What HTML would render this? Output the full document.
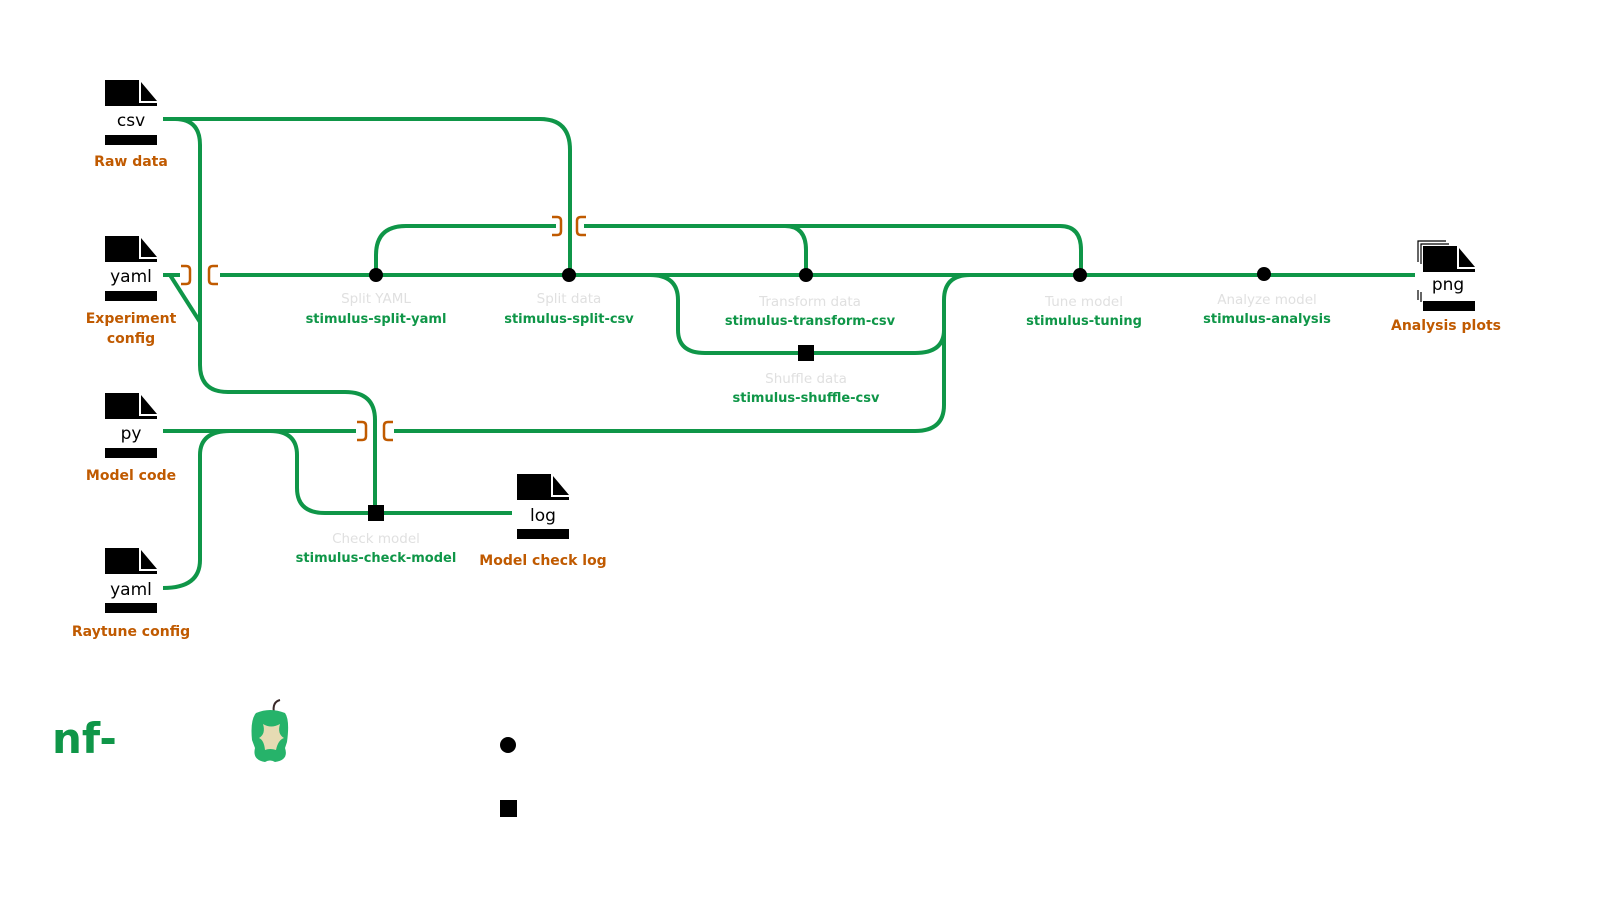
<!DOCTYPE html>
<html><head><meta charset="utf-8"><style>
html,body{margin:0;padding:0;background:#fff;overflow:hidden;}
svg{display:block;font-family:"DejaVu Sans","Liberation Sans",sans-serif;}
.g{fill:none;stroke:#0f9648;stroke-width:4;}
.br{fill:none;stroke:#c05a00;stroke-width:2.5;}
.lo{fill:#c05a00;font-weight:bold;font-size:14px;text-anchor:middle;}
.lg{fill:#0f9648;font-weight:bold;font-size:13px;text-anchor:middle;}
.lt{fill:#e0e0e0;font-size:13.5px;text-anchor:middle;}
.ft{fill:#000;font-size:17px;text-anchor:middle;}
</style></head><body>
<svg width="1600" height="900" viewBox="0 0 1600 900">
<defs>
<g id="doc">
<rect x="0" y="0" width="34" height="23" fill="#000"/>
<polygon points="36,2 36,21 52,21" fill="#000"/>
<rect x="0" y="23" width="52" height="3" fill="#000"/>
<rect x="0" y="55" width="52" height="10" fill="#000"/>
</g>
</defs>
<path class="g" d="M163,119 H540 Q570,119 570,150 V275"/>
<path class="g" d="M163,119 H175 Q200,119 200,145 V365 Q200,392 228,392 H345 Q375,392 375,420 V513"/>
<path class="g" d="M163,275 H180 M220,275 H376"/>
<path class="g" d="M170,275 L200,322"/>
<path class="g" d="M376,275 V255 Q376,226 406,226 H556 M584,226 H785 Q806,226 806,250 V275"/>
<path class="g" d="M785,226 H1060 Q1081,226 1081,250 V275"/>
<path class="g" d="M376,275 H1415"/>
<path class="g" d="M650,275 Q678,275 678,300 V330 Q678,353 705,353 H915 Q944,353 944,330 V300 Q944,275 970,275"/>
<path class="g" d="M163,431 H356 M394,431 H915 Q944,431 944,405 V330"/>
<path class="g" d="M270,431 Q297,431 297,455 V488 Q297,513 325,513 H512"/>
<path class="g" d="M163,588 Q200,588 200,560 V455 Q200,431 230,431"/>
<path class="br" d="M181,266 h5 q4,0 4,4 v10 q0,4 -4,4 h-5 M218,266 h-5 q-4,0 -4,4 v10 q0,4 4,4 h5"/>
<path class="br" d="M552,217 h5 q4,0 4,4 v10 q0,4 -4,4 h-5 M586,217 h-5 q-4,0 -4,4 v10 q0,4 4,4 h5"/>
<path class="br" d="M357,422 h5 q4,0 4,4 v10 q0,4 -4,4 h-5 M393,422 h-5 q-4,0 -4,4 v10 q0,4 4,4 h5"/>
<g fill="#000">
<circle cx="376" cy="275" r="7"/><circle cx="569" cy="275" r="7"/><circle cx="806" cy="275" r="7"/>
<circle cx="1080" cy="275" r="7"/><circle cx="1264" cy="274" r="7"/>
<rect x="798" y="345" width="16" height="16"/><rect x="368" y="505" width="16" height="16"/>
<circle cx="508" cy="745" r="8"/><rect x="500" y="800" width="17" height="17"/>
</g>
<use href="#doc" x="105" y="80"/><text class="ft" x="131" y="126">csv</text>
<use href="#doc" x="105" y="236"/><text class="ft" x="131" y="282">yaml</text>
<use href="#doc" x="105" y="393"/><text class="ft" x="131" y="439">py</text>
<use href="#doc" x="105" y="548"/><text class="ft" x="131" y="595">yaml</text>
<use href="#doc" x="517" y="474"/><text class="ft" x="543" y="521">log</text>
<g fill="none" stroke="#000" stroke-width="1.2"><path d="M1418,262 V241 H1446 M1421,264 V244 H1449"/><path d="M1418,290 V300 M1421,292 V302"/></g>
<use href="#doc" x="1423" y="246"/><text class="ft" x="1448" y="290">png</text>
<text class="lo" x="131" y="166">Raw data</text>
<text class="lo" x="131" y="323">Experiment</text><text class="lo" x="131" y="343">config</text>
<text class="lo" x="131" y="480">Model code</text>
<text class="lo" x="131" y="636">Raytune config</text>
<text class="lo" x="543" y="565">Model check log</text>
<text class="lo" x="1446" y="330">Analysis plots</text>
<text class="lt" x="376" y="303">Split YAML</text><text class="lg" x="376" y="323">stimulus-split-yaml</text>
<text class="lt" x="569" y="303">Split data</text><text class="lg" x="569" y="323">stimulus-split-csv</text>
<text class="lt" x="810" y="306">Transform data</text><text class="lg" x="810" y="325">stimulus-transform-csv</text>
<text class="lt" x="1084" y="306">Tune model</text><text class="lg" x="1084" y="325">stimulus-tuning</text>
<text class="lt" x="1267" y="304">Analyze model</text><text class="lg" x="1267" y="323">stimulus-analysis</text>
<text class="lt" x="806" y="383">Shuffle data</text><text class="lg" x="806" y="402">stimulus-shuffle-csv</text>
<text class="lt" x="376" y="543">Check model</text><text class="lg" x="376" y="562">stimulus-check-model</text>
<text x="52" y="753" fill="#0f9648" font-weight="bold" font-size="42">nf-</text>
<path d="M274,713 Q272,702 280,700" fill="none" stroke="#3a2a2a" stroke-width="2"/>
<path d="M256,713 Q270,707 285,713 Q290,720 287,742 L285,748 Q289,760 275,762 Q270,759 265,762 Q252,760 255,748 L252,740 Q250,720 256,713Z" fill="#26b36a"/>
<path d="M259,738 Q266,734 263,724 Q271,729 280,724 Q277,734 284,738 Q278,740 276,750 Q270,748 265,750 Q264,740 259,738Z" fill="#e6dbb3"/>
</svg>
</body></html>
